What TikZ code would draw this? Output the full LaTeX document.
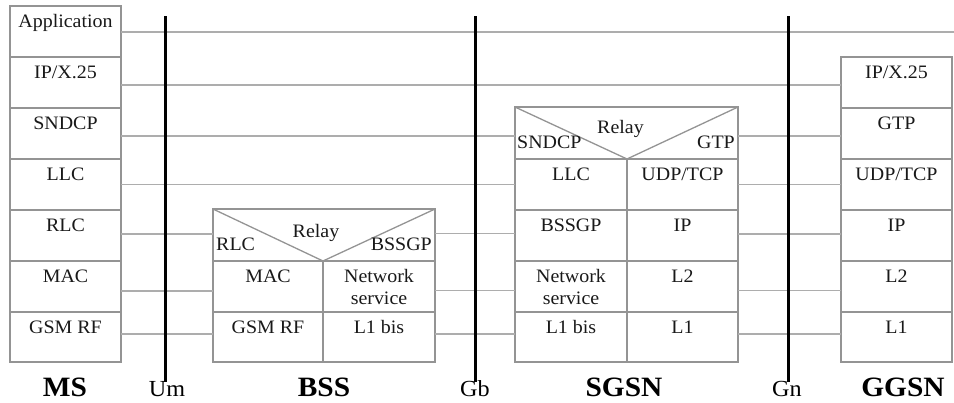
\documentclass[tikz,border=0pt]{standalone}
\usepackage{fontspec}
\setmainfont[FakeStretch=1.05]{Liberation Serif}

% One cell of a protocol stack: a box plus its text near the top
\newcommand\cell[6]{%
  \node[cellbox, minimum width=#4pt, minimum height=#5pt] (#1) at (#2,#3) {};
  \node[celltext] (#1-t) at ([yshift=-21pt]#1.north) {#6};}
\newcommand\twoline[2]{\begin{tabular}[t]{@{}c@{}}#1\\#2\end{tabular}}

\begin{document}
\begin{tikzpicture}[x=1pt, y=-1pt,
  cellbox/.style={draw=black!42, line width=1.3pt, anchor=north west, inner sep=0pt, outer sep=0pt},
  cellline/.style={draw=black!42, line width=1.3pt},
  celltext/.style={anchor=base, inner sep=0pt, text=black!90, font=\fontsize{19}{22}\selectfont},
  link/.style={draw=black!32, line width=1.3pt},
  iface/.style={draw=black, line width=3pt},
  ifname/.style={anchor=base, inner sep=0pt, text depth=0pt, font=\fontsize{23}{26}\selectfont},
  entity/.style={anchor=base, inner sep=0pt, text depth=0pt, font=\fontsize{28}{30}\selectfont\bfseries}]
\useasboundingbox (0,0) rectangle (954,402);

% MS stack
\cell{ms-app}{10}{6}{111}{51}{Application}
\cell{ms-ip}{10}{57}{111}{51}{IP/X.25}
\cell{ms-sndcp}{10}{108}{111}{51}{SNDCP}
\cell{ms-llc}{10}{159}{111}{51}{LLC}
\cell{ms-rlc}{10}{210}{111}{51}{RLC}
\cell{ms-mac}{10}{261}{111}{51}{MAC}
\cell{ms-rf}{10}{312}{111}{50}{GSM RF}

% BSS stack
\node[cellbox, minimum width=222pt, minimum height=52pt] (bss-relay) at (213,209) {};
\cell{bss-mac}{213}{261}{110}{51}{MAC}
\cell{bss-ns}{323}{261}{112}{51}{\twoline{Network}{service}}
\cell{bss-rf}{213}{312}{110}{50}{GSM RF}
\cell{bss-l1}{323}{312}{112}{50}{L1 bis}
\draw[cellline] (bss-relay.north west) -- (bss-mac.north east) -- (bss-relay.north east);
\node[celltext] (bss-relay-t) at ([xshift=-8pt,yshift=-28pt]bss-relay.north) {Relay};
\node[celltext, anchor=base west] (bss-relay-l) at ([xshift=3pt,yshift=-41pt]bss-relay.north west) {RLC};
\node[celltext, anchor=base east] (bss-relay-r) at ([xshift=-3pt,yshift=-41pt]bss-relay.north east) {BSSGP};

% SGSN stack
\node[cellbox, minimum width=223pt, minimum height=52pt] (sg-relay) at (515,107) {};
\cell{sg-llc}{515}{159}{112}{51}{LLC}
\cell{sg-udp}{627}{159}{111}{51}{UDP/TCP}
\cell{sg-bssgp}{515}{210}{112}{51}{BSSGP}
\cell{sg-ip}{627}{210}{111}{51}{IP}
\cell{sg-ns}{515}{261}{112}{51}{\twoline{Network}{service}}
\cell{sg-l2}{627}{261}{111}{51}{L2}
\cell{sg-l1bis}{515}{312}{112}{50}{L1 bis}
\cell{sg-l1}{627}{312}{111}{50}{L1}
\draw[cellline] (sg-relay.north west) -- (sg-llc.north east) -- (sg-relay.north east);
\node[celltext] (sg-relay-t) at ([xshift=-6pt,yshift=-26pt]sg-relay.north) {Relay};
\node[celltext, anchor=base west] (sg-relay-l) at ([xshift=2pt,yshift=-41pt]sg-relay.north west) {SNDCP};
\node[celltext, anchor=base east] (sg-relay-r) at ([xshift=-3pt,yshift=-41pt]sg-relay.north east) {GTP};

% GGSN stack
\cell{gg-ip}{841}{57}{111}{51}{IP/X.25}
\cell{gg-gtp}{841}{108}{111}{51}{GTP}
\cell{gg-udp}{841}{159}{111}{51}{UDP/TCP}
\cell{gg-ipl}{841}{210}{111}{51}{IP}
\cell{gg-l2}{841}{261}{111}{51}{L2}
\cell{gg-l1}{841}{312}{111}{50}{L1}

% peer-to-peer links between layers
\coordinate (app-end) at (954,32);
\draw[link] ([yshift=-0.5pt]ms-app.east) -- (app-end);
\draw[link] ([yshift=-2.5pt]ms-ip.east) -- ([yshift=-2.5pt]ms-ip.east -| gg-ip.west);
\draw[link] ([yshift=-2.5pt]ms-sndcp.east) -- ([yshift=-2.5pt]ms-sndcp.east -| sg-relay.west);
\draw[link] ([yshift=-3pt]sg-relay.east) -- ([yshift=-3pt]sg-relay.east -| gg-gtp.west);
\draw[link] (ms-llc.east) -- (ms-llc.east -| sg-llc.west);
\draw[link] (sg-udp.east) -- (sg-udp.east -| gg-udp.west);
\draw[link] ([yshift=1.5pt]ms-rlc.east) -- ([yshift=1.5pt]ms-rlc.east -| bss-relay.west);
\draw[link] ([yshift=1.5pt]bss-relay.east) -- ([yshift=1.5pt]bss-relay.east -| sg-bssgp.west);
\draw[link] ([yshift=1.5pt]sg-ip.east) -- ([yshift=1.5pt]sg-ip.east -| gg-ipl.west);
\draw[link] ([yshift=-4.5pt]ms-mac.east) -- ([yshift=-4.5pt]ms-mac.east -| bss-mac.west);
\draw[link] ([yshift=-4pt]bss-ns.east) -- ([yshift=-4pt]bss-ns.east -| sg-ns.west);
\draw[link] ([yshift=-4pt]sg-l2.east) -- ([yshift=-4pt]sg-l2.east -| gg-l2.west);
\draw[link] ([yshift=3pt]ms-rf.east) -- ([yshift=3pt]ms-rf.east -| bss-rf.west);
\draw[link] ([yshift=3pt]bss-l1.east) -- ([yshift=3pt]bss-l1.east -| sg-l1bis.west);
\draw[link] ([yshift=3pt]sg-l1.east) -- ([yshift=3pt]sg-l1.east -| gg-l1.west);

% interfaces
\coordinate (um-a) at (165,16);  \coordinate (um-b) at (165,382);
\coordinate (gb-a) at (475,16);  \coordinate (gb-b) at (475,382);
\coordinate (gn-a) at (788,16);  \coordinate (gn-b) at (788,382);
\draw[iface] (um-a) -- (um-b);
\draw[iface] (gb-a) -- (gb-b);
\draw[iface] (gn-a) -- (gn-b);
\node[ifname] (um) at (167,396) {Um};
\node[ifname] (gb) at (475,396) {Gb};
\node[ifname] (gn) at (787,396) {Gn};

% network elements
\node[entity] (ms)   at (65,396)  {MS};
\node[entity] (bss)  at (324,396) {BSS};
\node[entity] (sgsn) at (624,396) {SGSN};
\node[entity] (ggsn) at (903,396) {GGSN};
\end{tikzpicture}
\end{document}
